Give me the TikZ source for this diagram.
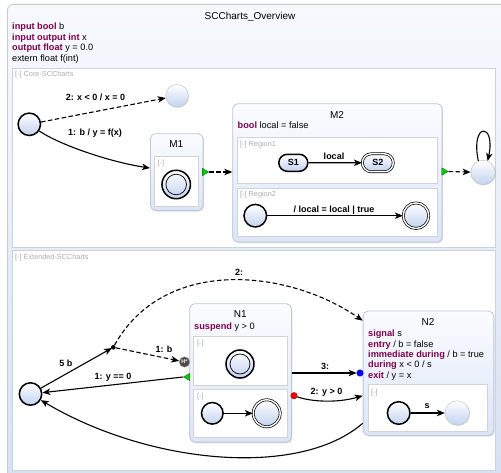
\documentclass[tikz,border=0pt]{standalone}
\usepackage{fontspec}
\setmainfont{Liberation Sans}
\usetikzlibrary{arrows.meta,shadows,shapes.geometric,shapes.misc}
\definecolor{kwcol}{RGB}{125,0,80}
\definecolor{stbot}{RGB}{194,210,240}
\definecolor{cttop}{RGB}{251,252,255}
\definecolor{ctbot}{RGB}{220,229,246}
\definecolor{ctline}{RGB}{190,198,216}
\definecolor{rgline}{RGB}{208,211,218}
\definecolor{rglab}{RGB}{172,172,176}
\definecolor{rootline}{RGB}{196,202,214}
\definecolor{roottop}{RGB}{247,249,253}
\definecolor{rootbot}{RGB}{214,224,241}
\definecolor{regline}{RGB}{200,210,228}
\definecolor{portgreen}{RGB}{0,205,0}
\newcommand\kwd[1]{\textcolor{kwcol}{\textbf{#1}}}
\newcommand\fsdecl{\fontsize{9.2}{11}\selectfont}
\newcommand\fslab{\fontsize{9}{11}\selectfont\bfseries}
\newcommand\fsreg{\fontsize{7.3}{9}\selectfont}
\newcommand\fsttl{\fontsize{10}{12}\selectfont}
\begin{document}
\begin{tikzpicture}[x=1pt,y=-1pt,
  rootst/.style={rectangle, rounded corners=6pt, draw=rootline, line width=0.8pt, top color=roottop, bottom color=rootbot, inner sep=0pt},
  regionbox/.style={rectangle, draw=regline, line width=1pt, fill=white, inner sep=0pt},
  ctbox/.style={rectangle, rounded corners=5pt, draw=ctline, line width=0.8pt, top color=cttop, bottom color=ctbot, inner sep=0pt, drop shadow={shadow xshift=1pt, shadow yshift=-1.2pt, opacity=0.25}},
  inreg/.style={rectangle, draw=rgline, line width=0.8pt, fill=white, inner sep=0pt},
  stshade/.style={top color=white, bottom color=stbot},
  plain/.style={circle, inner sep=0pt, stshade, draw=black!25, line width=0.4pt, drop shadow={shadow xshift=0.8pt, shadow yshift=-0.8pt, opacity=0.25}},
  initst/.style={inner sep=0pt, stshade, draw=black, line width=1.5pt},
  finthin/.style={inner sep=0pt, stshade, draw=black, line width=0.7pt, double=white, double distance=1.4pt},
  innerring/.style={draw=black, line width=0.7pt},
  tr/.style={draw=black, line width=1.1pt, -{Stealth[length=8pt, width=6.5pt, inset=2.2pt]}},
  trd/.style={tr, dash pattern=on 4.5pt off 2.5pt},
  lab/.style={font=\fslab, inner sep=0pt},
  decl/.style={font=\fsdecl, inner sep=0pt},
  ttl/.style={font=\fsttl, inner sep=0pt},
  reglab/.style={font=\fsreg, text=rglab, inner sep=0pt},
  junc/.style={circle, fill=black, inner sep=0pt, minimum size=4.6},
  hist/.style={circle, fill=black!70, draw=black!40, line width=0.4pt, text=white, font=\fontsize{5.5}{6}\selectfont\bfseries, inner sep=0pt, minimum size=10.5},
  bdot/.style={circle, fill={rgb,255:red,0;green,0;blue,255}, draw=blue!60!black, line width=0.3pt, inner sep=0pt, minimum size=6.6},
  rdot/.style={circle, fill={rgb,255:red,240;green,0;blue,0}, draw=red!60!black, line width=0.3pt, inner sep=0pt, minimum size=6.6},
  port/.style={regular polygon, regular polygon sides=3, minimum size=8.5, inner sep=0pt, fill=portgreen, draw=green!40!black, line width=0.3pt}
]
\useasboundingbox (0,0) rectangle (501,473);
\clip (0,0) rectangle (501,473);

% root state
\node[rootst, anchor=north west, minimum width=530, minimum height=500] (root) at (7,4) {};
\node[ttl, anchor=base] (roottitle) at (250,19.5) {SCCharts\_Overview};
\node[decl, anchor=base west] (rd1) at (12,29.5) {\kwd{input bool} b};
\node[decl, anchor=base west] (rd2) at (12,40.1) {\kwd{input output int} x};
\node[decl, anchor=base west] (rd3) at (12,50.7) {\kwd{output float} y = 0.0};
\node[decl, anchor=base west] (rd4) at (12,61.3) {extern float f(int)};

% regions
\node[regionbox, anchor=north west, minimum width=483, minimum height=178.5] (core) at (12,68.3) {};
\node[reglab, anchor=base west] (corelab) at (15,76.5) {[-] Core-SCCharts};
\node[regionbox, anchor=north west, minimum width=483, minimum height=219] (ext) at (12,250.5) {};
\node[reglab, anchor=base west] (extlab) at (15,259.5) {[-] Extended-SCCharts};

% ---------- Core ----------
\node[initst, circle, minimum size=22.4] (A) at (29.3,124.3) {};
\node[plain, minimum size=22.6] (B) at (177,95.8) {};

\node[ctbox, anchor=north west, minimum width=52.7, minimum height=76.7] (M1) at (150,133.3) {};
\node[ttl, anchor=base] (M1t) at (176.3,148) {M1};
\node[inreg, anchor=north west, minimum width=44, minimum height=50] (M1r) at (154.3,156) {};
\node[reglab, anchor=base west] (M1rl) at (157.5,165.5) {[-]};
\node[initst, circle, minimum size=28.5] (M1f) at (176.2,184.5) {};
\draw[innerring] (M1f.center) circle[radius=10.3];
\node[port, shape border rotate=-90] (M1p) at (204.5,172) {};

\node[ctbox, anchor=north west, minimum width=209.4, minimum height=138.4] (M2) at (232.3,103.3) {};
\node[ttl, anchor=base] (M2t) at (337,119) {M2};
\node[decl, anchor=base west] (M2d) at (237.5,128.5) {\kwd{bool} local = false};
\node[inreg, anchor=north west, minimum width=200, minimum height=46.6] (R1) at (236.7,136.7) {};
\node[reglab, anchor=base west] (R1l) at (240,146.5) {[-] Region1};
\node[initst, rounded rectangle, minimum width=29, minimum height=17, font=\fslab] (S1) at (293.3,162.8) {S1};
\node[finthin, rounded rectangle, minimum width=31, minimum height=18, font=\fslab] (S2) at (377.8,162.8) {S2};
\node[inreg, anchor=north west, minimum width=200, minimum height=47.4] (R2) at (236.7,188.3) {};
\node[reglab, anchor=base west] (R2l) at (240,196.7) {[-] Region2};
\node[initst, circle, minimum size=22.6] (R2i) at (255.3,215.7) {};
\node[finthin, circle, minimum size=25.6] (R2f) at (416,215.7) {};
\node[port, shape border rotate=-90] (M2p) at (444,171.5) {};
\node[plain, minimum size=24.4] (D) at (483,172.5) {};

\draw[trd] (A) -- (B);
\node[lab, anchor=base] (lAB) at (95.5,100.5) {2: x < 0 / x = 0};
\draw[tr] (A) .. controls (60,145) and (110,162) .. ([yshift=4pt]M1.west);
\node[lab, anchor=base] (lAM) at (95,136) {1: b / y = f(x)};
\draw[trd] (M1p.corner 1) -- (M1p.corner 1 -| M2.west);
\draw[tr] (S1) -- (S2);
\node[lab, anchor=base] (lS) at (334,160) {local};
\draw[tr] (R2i) -- (R2f);
\node[lab, anchor=base] (lR2) at (334,212.5) {/ local = local | true};
\draw[trd] (M2p.corner 1) -- (D);
\draw[tr] (D.112) .. controls (470,122) and (496,122) .. (D.68);

% ---------- Extended ----------
\node[initst, circle, minimum size=22.4] (C) at (30.5,394) {};

\node[ctbox, anchor=north west, minimum width=101.7, minimum height=138.4] (N1) at (189.3,303.3) {};
\node[ttl, anchor=base] (N1t) at (240.2,317) {N1};
\node[decl, anchor=base west] (N1d) at (194,329) {\kwd{suspend} y > 0};
\node[inreg, anchor=north west, minimum width=94, minimum height=49.3] (N1r1) at (193,335.7) {};
\node[reglab, anchor=base west] (N1r1l) at (197,345) {[-]};
\node[initst, circle, minimum size=28] (N1f) at (240,364) {};
\draw[innerring] (N1f.center) circle[radius=10];
\node[inreg, anchor=north west, minimum width=94, minimum height=48] (N1r2) at (193,389) {};
\node[reglab, anchor=base west] (N1r2l) at (197,398) {[-]};
\node[initst, circle, minimum size=21.6] (N1i) at (212.3,413.3) {};
\node[finthin, circle, minimum size=27] (N1ff) at (266.7,413.3) {};

\node[hist] (H) at (184.5,362) {H*};
\node[port, shape border rotate=90] (N1p) at (187.7,377) {};

\node[ctbox, anchor=north west, minimum width=130.6, minimum height=124.3] (N2) at (362.7,310.7) {};
\node[ttl, anchor=base] (N2t) at (428,325) {N2};
\node[decl, anchor=base west] (N2d1) at (368,336.7) {\kwd{signal} s};
\node[decl, anchor=base west] (N2d2) at (368,347) {\kwd{entry} / b = false};
\node[decl, anchor=base west] (N2d3) at (368,357.3) {\kwd{immediate during} / b = true};
\node[decl, anchor=base west] (N2d4) at (368,367.7) {\kwd{during} x < 0 / s};
\node[decl, anchor=base west] (N2d5) at (368,378) {\kwd{exit} / y = x};
\node[inreg, anchor=north west, minimum width=119.6, minimum height=46.4] (N2r) at (367.7,384.3) {};
\node[reglab, anchor=base west] (N2rl) at (371,394) {[-]};
\node[initst, circle, minimum size=22.6] (N2i) at (398.7,413) {};
\node[plain, minimum size=24.4] (N2s) at (457.2,413) {};

\node[bdot] (bd) at (360,373) {};
\node[rdot] (rd) at (294,395.7) {};

\draw[tr, shorten >=1.5pt] (C) -- (113.3,347.3) coordinate (Jc);
\node[junc] (J) at (Jc) {};
\node[lab, anchor=base] (l5b) at (66,366) {5 b};
\draw[trd] (J) -- (H);
\node[lab, anchor=base] (l1b) at (164,352.5) {1: b};
\draw[trd] (J) .. controls (165,255) and (290,270) .. ([yshift=-10pt]N2.north west);
\node[lab, anchor=base] (l2) at (239,275.5) {2:};
\draw[tr] (N1p.corner 1) -- (C);
\node[lab, anchor=base] (l1y) at (113,379) {1: y == 0};
\draw[tr] (N1i) -- (N1ff);
\draw[tr] (N1.east |- bd) -- (bd);
\node[lab, anchor=base] (l3) at (325,369) {3:};
\draw[tr] (rd) .. controls (312,402) and (338,403) .. (rd -| N2.west);
\node[lab, anchor=base] (l2y) at (326.5,394) {2: y > 0};
\draw[tr] (N2i) -- (N2s);
\node[lab, anchor=base] (ls) at (427,408) {s};
\draw[tr] ([yshift=-50pt]N2.west) .. controls (300,478) and (150,465) .. (C);
\end{tikzpicture}
\end{document}
